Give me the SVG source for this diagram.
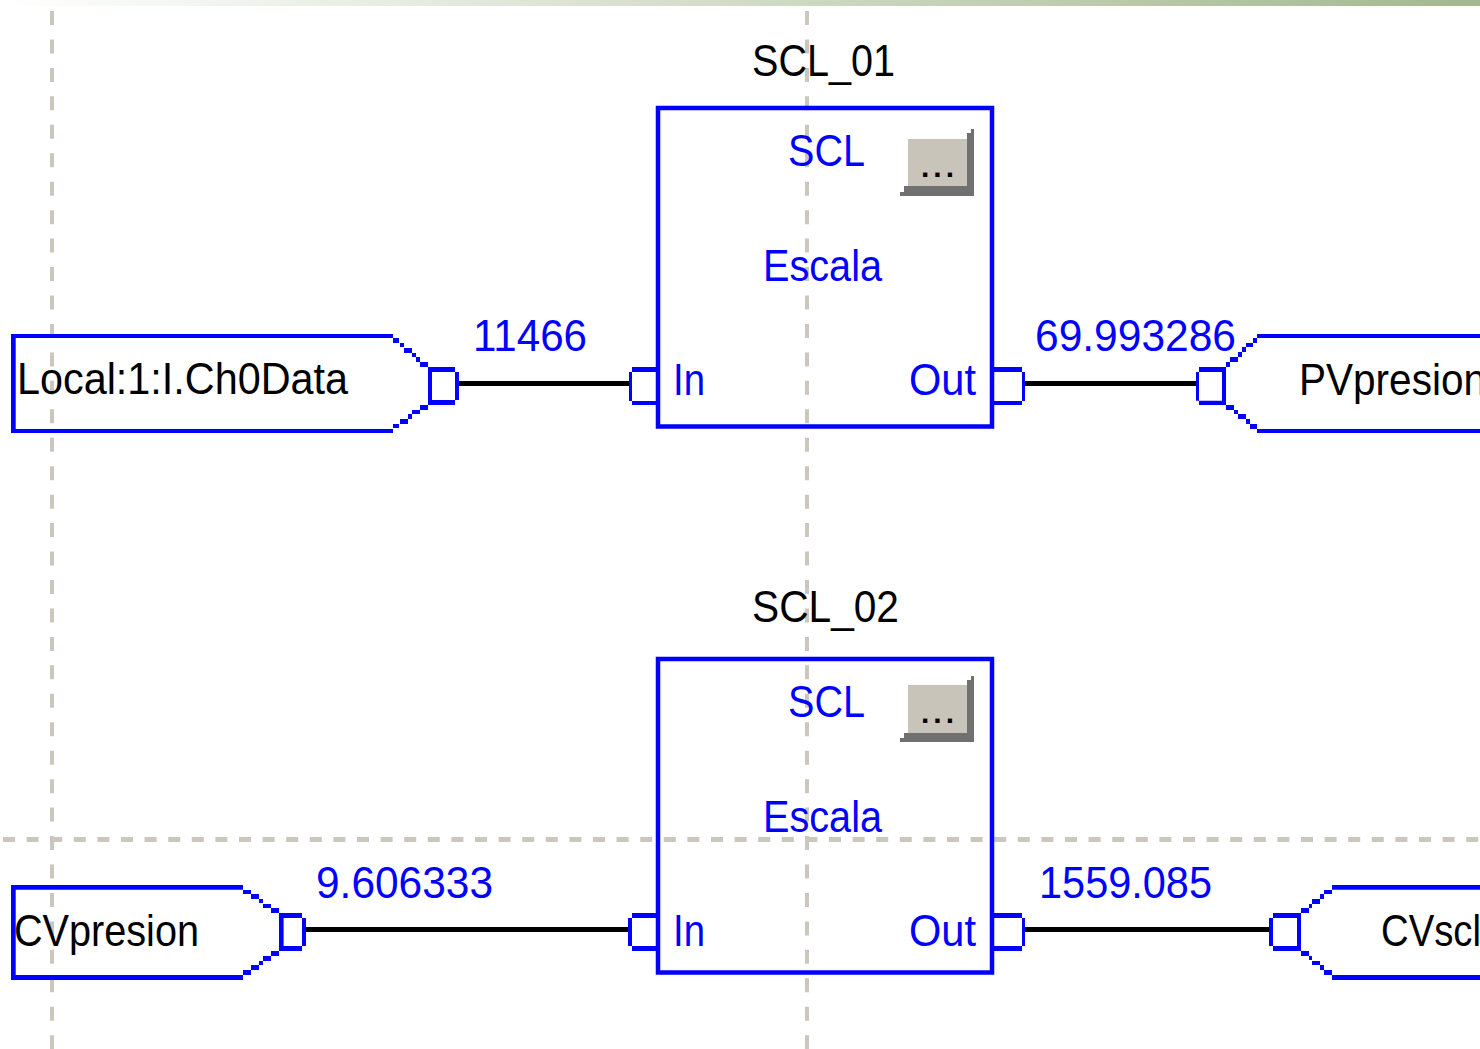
<svg xmlns="http://www.w3.org/2000/svg" width="1480" height="1049" viewBox="0 0 1480 1049">
<style>
.guide{stroke:#cbc7bd;stroke-width:4;fill:none}
.gv{stroke-dasharray:14 14.45}
.gh{stroke-dasharray:12 11.6;stroke-width:5}
.blue{fill:#0000ff}
.wire{fill:#000}
.frame{fill:none;stroke:#0000ff;stroke-width:4.5}
.face{fill:#c8c4ba}
.shade{fill:#707070}
text{font-family:"Liberation Sans",Arial,sans-serif;font-size:45px}
.tb{fill:#0000ff}
.tk{fill:#000}
.dots{font-size:30px;font-weight:700;fill:#000}
</style>
<defs>
<linearGradient id="band" x1="0" y1="0" x2="1" y2="0"><stop offset="0" stop-color="#ffffff"/><stop offset="1" stop-color="#a3b88f"/></linearGradient>
</defs>
<rect width="1480" height="1049" fill="#fff"/>
<rect id="top-band" width="1480" height="6" fill="url(#band)"/>
<g id="guides">
<path class="guide gv" d="M52 11V1049"/>
<path class="guide gv" d="M807 11V1049"/>
<path class="guide gh" d="M3 839.500H1480"/>
</g>
<g id="connectors">
<rect class="wire" x="459" y="381" width="170" height="5"/>
<rect class="wire" x="1025" y="381" width="171" height="5"/>
<rect class="wire" x="306" y="927" width="322" height="5"/>
<rect class="wire" x="1025" y="927" width="244" height="5"/>
</g>
<g id="input-local">
<path class="blue" d="M11 334H393V338H15.700V429H393V433H11ZM393 338H399V343H393ZM400 343H404V347H400ZM404 348H412V353H404ZM412 353H416V357H412ZM416 357H420V362H416ZM420 362H428V367H420ZM420 405H428V410H420ZM412 410H420V414H412ZM408 414H412V419H408ZM400 419H408V424H400ZM393 424H399V428H393Z"/>
<path class="blue" d="M428 367H455V372H432V400H455V405H428ZM455 372H459V400H455Z"/>
<text class="tk" x="17" y="394" textLength="331" lengthAdjust="spacingAndGlyphs">Local:1:I.Ch0Data</text>
<text class="tb" x="473" y="351" textLength="114" lengthAdjust="spacingAndGlyphs">11466</text>
</g>
<g id="scl-01">
<text class="tk" x="752" y="76" textLength="143" lengthAdjust="spacingAndGlyphs">SCL_01</text>
<rect class="frame" x="658" y="108" width="334" height="318.500"/>
<text class="tb" x="788" y="166" textLength="77" lengthAdjust="spacingAndGlyphs">SCL</text>
<text class="tb" x="763" y="281" textLength="119" lengthAdjust="spacingAndGlyphs">Escala</text>
<text class="tb" x="673" y="395" textLength="32" lengthAdjust="spacingAndGlyphs">In</text>
<text class="tb" x="909" y="395" textLength="67" lengthAdjust="spacingAndGlyphs">Out</text>
<rect class="face" x="908" y="139" width="59" height="47"/>
<path class="shade" d="M971 129H974V196H900V192H904V186H967V133H971Z"/>
<text class="dots" x="921" y="177" textLength="33">...</text>
<path class="blue" d="M632 367H658V372H632ZM632 401H658V405H632ZM629 372H632V401H629Z"/>
<path class="blue" d="M994 367H1022V372H994ZM994 401H1022V405H994ZM1022 372H1025V401H1022Z"/>
<text class="tb" x="1035" y="351" textLength="201" lengthAdjust="spacingAndGlyphs">69.993286</text>
</g>
<g id="output-pvpresion">
<path class="blue" d="M1257 334H1480V338H1257ZM1257 429H1480V433H1257ZM1253 338H1257V343H1253ZM1246 343H1253V347H1246ZM1242 347H1246V352H1242ZM1238 352H1242V357H1238ZM1230 357H1238V362H1230ZM1226 362H1230V367H1226ZM1226 405H1234V410H1226ZM1234 410H1238V414H1234ZM1238 414H1246V419H1238ZM1246 419H1250V424H1246ZM1250 424H1257V429H1250Z"/>
<path class="blue" d="M1199 367H1226V405H1199V400.700H1222V372H1199ZM1196 372H1199V400.700H1196Z"/>
<text class="tk" x="1299" y="395" textLength="187" lengthAdjust="spacingAndGlyphs">PVpresion</text>
</g>
<g id="input-cvpresion">
<path class="blue" d="M11 885H243V889.700H15.700V975H243V980H11ZM243 890H251V894H243ZM251 894H259V899H251ZM259 899H263V903H259ZM263 904H271V908H263ZM271 908H279V913H271ZM271 951H279V956H271ZM263 956H271V961H263ZM259 961H263V965H259ZM251 965H259V970H251ZM243 970H251V975H243Z"/>
<path class="blue" d="M279 913H302V918H283.600V946H302V951H279ZM302 918H306V946H302Z"/>
<text class="tk" x="14" y="946" textLength="185" lengthAdjust="spacingAndGlyphs">CVpresion</text>
<text class="tb" x="316" y="898" textLength="177" lengthAdjust="spacingAndGlyphs">9.606333</text>
</g>
<g id="scl-02">
<text class="tk" x="752" y="622" textLength="147" lengthAdjust="spacingAndGlyphs">SCL_02</text>
<rect class="frame" x="658" y="659" width="334" height="313.500"/>
<text class="tb" x="788" y="717" textLength="77" lengthAdjust="spacingAndGlyphs">SCL</text>
<text class="tb" x="763" y="832" textLength="119" lengthAdjust="spacingAndGlyphs">Escala</text>
<text class="tb" x="673" y="946" textLength="32" lengthAdjust="spacingAndGlyphs">In</text>
<text class="tb" x="909" y="946" textLength="67" lengthAdjust="spacingAndGlyphs">Out</text>
<rect class="face" x="908" y="685" width="59" height="48"/>
<path class="shade" d="M971 676H974V742H900V738H904V733H967V680H971Z"/>
<text class="dots" x="921" y="723" textLength="33">...</text>
<path class="blue" d="M632 913H658V918H632ZM632 946H658V951H632ZM628 918H632V946H628Z"/>
<path class="blue" d="M994 913H1022V918H994ZM994 946H1022V951H994ZM1022 918H1025V946H1022Z"/>
<text class="tb" x="1039" y="898" textLength="173" lengthAdjust="spacingAndGlyphs">1559.085</text>
</g>
<g id="output-cvscl">
<path class="blue" d="M1332 885H1480V889.700H1332ZM1332 975H1480V980H1332ZM1301 908H1309V913H1301ZM1309 904H1312V908H1309ZM1312 899H1320V904H1312ZM1320 894H1324V899H1320ZM1324 890H1332V894H1324ZM1301 951H1309V956H1301ZM1309 956H1312V960H1309ZM1312 961H1320V965H1312ZM1320 965H1324V970H1320ZM1324 970H1332V975H1324Z"/>
<path class="blue" d="M1273 913H1301V951H1273V946H1297V918H1273ZM1269 918H1273V946H1269Z"/>
<text class="tk" x="1381" y="946" textLength="100" lengthAdjust="spacingAndGlyphs">CVscl</text>
</g>
</svg>
